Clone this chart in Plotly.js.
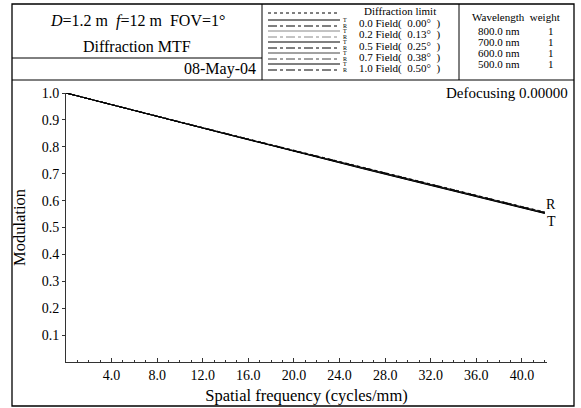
<!DOCTYPE html>
<html>
<head>
<meta charset="utf-8">
<script src="https://cdn.plot.ly/plotly-3.0.1.min.js"></script>
<style>html,body{margin:0;padding:0;background:#fff;}#chart{width:581px;height:408px;}</style>
</head>
<body>
<div id="chart"></div>
<script>
// ---- data ----
const freq = [0,2,4,6,8,10,12,14,16,18,20,22,24,26,28,30,32,34,36,38,40,42];
const diffLimit = [1.000,0.979,0.957,0.936,0.914,0.893,0.871,0.850,0.829,0.807,0.786,0.765,0.744,0.723,0.702,0.681,0.660,0.639,0.619,0.598,0.578,0.558];
const f00T = [1.000,0.978,0.957,0.935,0.914,0.892,0.871,0.849,0.828,0.806,0.785,0.764,0.743,0.722,0.701,0.680,0.659,0.638,0.617,0.597,0.576,0.556];
const f00R = [1.000,0.978,0.957,0.935,0.914,0.892,0.871,0.849,0.828,0.806,0.785,0.764,0.743,0.722,0.701,0.680,0.659,0.638,0.617,0.597,0.576,0.556];
const f02T = [1.000,0.978,0.957,0.935,0.913,0.892,0.870,0.849,0.828,0.806,0.785,0.763,0.742,0.721,0.700,0.679,0.658,0.637,0.617,0.596,0.575,0.555];
const f02R = [1.000,0.978,0.957,0.935,0.914,0.892,0.871,0.849,0.828,0.806,0.785,0.764,0.743,0.722,0.701,0.680,0.659,0.638,0.617,0.597,0.576,0.556];
const f05T = [1.000,0.978,0.956,0.935,0.913,0.891,0.870,0.848,0.827,0.806,0.784,0.763,0.742,0.721,0.700,0.679,0.658,0.637,0.616,0.595,0.575,0.554];
const f05R = [1.000,0.978,0.957,0.935,0.914,0.892,0.871,0.849,0.828,0.806,0.785,0.764,0.743,0.722,0.701,0.680,0.659,0.638,0.617,0.596,0.576,0.556];
const f07T = [1.000,0.978,0.956,0.935,0.913,0.891,0.870,0.848,0.827,0.805,0.784,0.762,0.741,0.720,0.699,0.678,0.657,0.636,0.615,0.595,0.574,0.553];
const f07R = [1.000,0.978,0.957,0.935,0.914,0.892,0.871,0.849,0.828,0.806,0.785,0.764,0.742,0.721,0.700,0.679,0.659,0.638,0.617,0.596,0.576,0.555];
const f10T = [1.000,0.978,0.956,0.934,0.913,0.891,0.869,0.848,0.826,0.805,0.783,0.762,0.741,0.719,0.698,0.677,0.656,0.635,0.614,0.594,0.573,0.552];
const f10R = [1.000,0.978,0.957,0.935,0.913,0.892,0.870,0.849,0.828,0.806,0.785,0.763,0.742,0.721,0.700,0.679,0.658,0.637,0.617,0.596,0.575,0.555];
const xTickVals = [4,8,12,16,20,24,28,32,36,40];
const xTickText = ['4.0','8.0','12.0','16.0','20.0','24.0','28.0','32.0','36.0','40.0'];
const yTickVals = [0.1,0.2,0.3,0.4,0.5,0.6,0.7,0.8,0.9,1.0];
const yTickText = ['0.1','0.2','0.3','0.4','0.5','0.6','0.7','0.8','0.9','1.0'];
const fieldLabels = ['0.0 Field(\u00a0 0.00°\u00a0 )','0.2 Field(\u00a0 0.13°\u00a0 )','0.5 Field(\u00a0 0.25°\u00a0 )','0.7 Field(\u00a0 0.38°\u00a0 )','1.0 Field(\u00a0 0.50°\u00a0 )'];
const wavelengths = ['800.0 nm','700.0 nm','600.0 nm','500.0 nm'];
const weights = ['1','1','1','1'];

// ---- layout geometry (pixels) ----
const PL=66, PR=547, PT=93, PB=362;
const px = x => (x-PL)/(PR-PL);
const py = y => (PB-y)/(PB-PT);
const FONT = 'Liberation Serif, Times New Roman, serif';

const series = [
  {y: f00T, dash:'solid',   color:'#000'},
  {y: f00R, dash:'dashdot', color:'#000'},
  {y: f02T, dash:'solid',   color:'#888'},
  {y: f02R, dash:'dashdot', color:'#888'},
  {y: f05T, dash:'solid',   color:'#000'},
  {y: f05R, dash:'dashdot', color:'#000'},
  {y: f07T, dash:'solid',   color:'#444'},
  {y: f07R, dash:'dashdot', color:'#444'},
  {y: f10T, dash:'solid',   color:'#000'},
  {y: f10R, dash:'dashdot', color:'#000'}
];

const traces = [{x: freq, y: diffLimit, mode:'lines', line:{color:'#000', width:1, dash:'dot'}, hoverinfo:'skip'}];
series.forEach(s => traces.push({x: freq, y: s.y, mode:'lines', line:{color:s.color, width:1, dash:s.dash}, hoverinfo:'skip'}));

const shapes = [];
const ann = [];
const line = (x0,y0,x1,y1,opt) => shapes.push(Object.assign({type:'line', xref:'paper', yref:'paper', x0:px(x0), y0:py(y0), x1:px(x1), y1:py(y1), line:{color:'#000', width:1}}, opt||{}));
const text = (x,y,t,size,xanchor,opt) => ann.push(Object.assign({xref:'paper', yref:'paper', x:px(x), y:py(y), text:t, showarrow:false, xanchor:xanchor||'center', yanchor:'middle', font:{family:FONT, size:size, color:'#000'}}, opt||{}));

// frame
shapes.push({type:'rect', xref:'paper', yref:'paper', x0:px(12), y0:py(4), x1:px(574), y1:py(406), line:{color:'#000', width:1.3}});
line(12,80,574,80);
line(262,4,262,80);
line(459,4,459,80);
line(12,58,262,58);

// header texts
text(137,21,'<i>D</i>=1.2 m\u00a0 <i>f</i>=12 m\u00a0 FOV=1°',16);
text(137,46,'Diffraction MTF',16);
text(258,69,'08-May-04',16,'right');

// legend
line(268,13,340,13,{line:{color:'#000', width:1, dash:'dot'}});
text(400,11,'Diffraction limit',11);
const legendY = [20,26,31,37,42,48,53,59,64,70];
series.forEach((s,i) => {
  line(268,legendY[i],340,legendY[i],{line:{color:s.color, width:1, dash:s.dash}});
  text(345,legendY[i],i%2===0?'T':'R',6);
});
const fieldY = [23,35,46,58,69];
fieldLabels.forEach((f,i)=>text(357,fieldY[i],f,11,'left'));

// wavelength table
text(516,17,'Wavelength\u00a0 weight',11);
const wlY = [31,42,53,64];
wavelengths.forEach((w,i)=>{ text(476,wlY[i],w,11,'left'); text(556,wlY[i],weights[i],11,'right'); });

// plot texts
text(570,93,'Defocusing 0.00000',15,'right');
text(551,204,'R',14,'center');
text(551,221,'T',14,'center');

const layout = {
  width:581, height:408,
  margin:{l:PL, r:581-PR, t:PT, b:408-PB, pad:0},
  paper_bgcolor:'#fff', plot_bgcolor:'#fff',
  showlegend:false,
  font:{family:FONT, color:'#000'},
  xaxis:{range:[0,42.2], tickvals:xTickVals, ticktext:xTickText, ticks:'inside', ticklen:4, tickcolor:'#333',
    minor:{tickvals:[1,2,3,5,6,7,9,10,11,13,14,15,17,18,19,21,22,23,25,26,27,29,30,31,33,34,35,37,38,39,41,42], ticks:'inside', ticklen:2, tickcolor:'#333'},
    showline:true, linecolor:'#333', linewidth:1, showgrid:false, zeroline:false,
    tickfont:{family:FONT, size:14, color:'#000'},
    title:{text:'Spatial frequency (cycles/mm)', font:{family:FONT, size:16.5, color:'#000'}, standoff:7}},
  yaxis:{range:[0,1], tickvals:yTickVals, ticktext:yTickText, ticks:'outside', ticklen:3, tickcolor:'#333',
    showline:true, linecolor:'#333', linewidth:1, showgrid:false, zeroline:false,
    tickfont:{family:FONT, size:14, color:'#000'},
    title:{text:'Modulation', font:{family:FONT, size:16.5, color:'#000'}, standoff:11}},
  shapes:shapes, annotations:ann
};
Plotly.newPlot('chart', traces, layout, {staticPlot:true, displayModeBar:false});
</script>
</body>
</html>
